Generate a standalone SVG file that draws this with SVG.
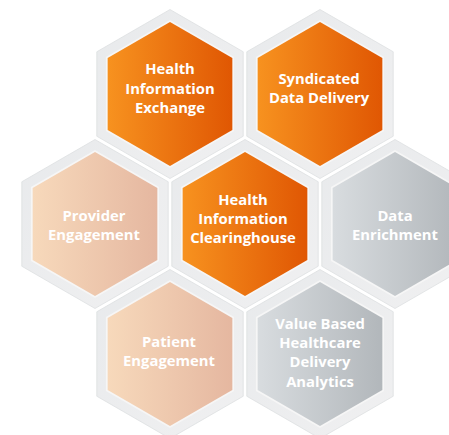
<svg xmlns="http://www.w3.org/2000/svg" xmlns:xlink="http://www.w3.org/1999/xlink" width="449" height="435" viewBox="0 0 449 435">
  <style>
    .lbl { font-family: "Open Sans", "Noto Sans", "Liberation Sans", sans-serif; font-weight: 700; font-size: 14.8px; fill: #ffffff; text-anchor: middle; }
    .frame { fill: url(#gFrame); stroke: #dadcde; stroke-width: 0.7; }
    .hl { fill: #f6f6f6; }
    .orange { fill: url(#gOrange); }
    .peach { fill: url(#gPeach); }
    .grey { fill: url(#gGrey); }
  </style>
  <defs>
    <linearGradient id="gFrame" x1="0" y1="0" x2="1" y2="1">
      <stop offset="0" stop-color="#e8eaec"/>
      <stop offset="1" stop-color="#f0f0f1"/>
    </linearGradient>
    <linearGradient id="gOrange" x1="0" y1="0" x2="1" y2="0">
      <stop offset="0" stop-color="#f7921f"/>
      <stop offset="1" stop-color="#e05703"/>
    </linearGradient>
    <linearGradient id="gPeach" x1="0" y1="0" x2="1" y2="0">
      <stop offset="0" stop-color="#f7d9bb"/>
      <stop offset="1" stop-color="#e5b7a0"/>
    </linearGradient>
    <linearGradient id="gGrey" x1="0" y1="0" x2="1" y2="0">
      <stop offset="0" stop-color="#d8dcdf"/>
      <stop offset="1" stop-color="#b2b7bb"/>
    </linearGradient>
    <polygon id="hexFrame" points="0,-84.5 73.2,-42.25 73.2,42.25 0,84.5 -73.2,42.25 -73.2,-42.25"/>
    <polygon id="hexHl" points="0,-74 64.1,-37 64.1,37 0,74 -64.1,37 -64.1,-37"/>
    <polygon id="hexIn" points="0,-72 62.35,-36 62.35,36 0,72 -62.35,36 -62.35,-36"/>
  </defs>
  <rect width="449" height="435" fill="#ffffff"/>
  <g id="connectors"/>

  <g id="hie" transform="translate(170,94)">
    <use xlink:href="#hexFrame" class="frame"/>
    <use xlink:href="#hexHl" class="hl"/>
    <use xlink:href="#hexIn" class="orange"/>
    <text class="lbl" x="0" y="-20">Health</text>
    <text class="lbl" x="0" y="0">Information</text>
    <text class="lbl" x="0" y="19">Exchange</text>
  </g>

  <g id="sdd" transform="translate(320,94)">
    <use xlink:href="#hexFrame" class="frame"/>
    <use xlink:href="#hexHl" class="hl"/>
    <use xlink:href="#hexIn" class="orange"/>
    <text class="lbl" x="-1" y="-10">Syndicated</text>
    <text class="lbl" x="-1" y="9">Data Delivery</text>
  </g>

  <g id="provider" transform="translate(95,224)">
    <use xlink:href="#hexFrame" class="frame"/>
    <use xlink:href="#hexHl" class="hl"/>
    <use xlink:href="#hexIn" class="peach"/>
    <text class="lbl" x="-1" y="-3">Provider</text>
    <text class="lbl" x="-1" y="16">Engagement</text>
  </g>

  <g id="hic" transform="translate(245,224)">
    <use xlink:href="#hexFrame" class="frame"/>
    <use xlink:href="#hexHl" class="hl"/>
    <use xlink:href="#hexIn" class="orange"/>
    <text class="lbl" x="-2" y="-19">Health</text>
    <text class="lbl" x="-2" y="0">Information</text>
    <text class="lbl" x="-2" y="19">Clearinghouse</text>
  </g>

  <g id="enrichment" transform="translate(395,224)">
    <use xlink:href="#hexFrame" class="frame"/>
    <use xlink:href="#hexHl" class="hl"/>
    <use xlink:href="#hexIn" class="grey"/>
    <text class="lbl" x="0" y="-3">Data</text>
    <text class="lbl" x="0" y="16">Enrichment</text>
  </g>

  <g id="patient" transform="translate(170,354)">
    <use xlink:href="#hexFrame" class="frame"/>
    <use xlink:href="#hexHl" class="hl"/>
    <use xlink:href="#hexIn" class="peach"/>
    <text class="lbl" x="-1" y="-7">Patient</text>
    <text class="lbl" x="-1" y="12">Engagement</text>
  </g>

  <g id="vbhda" transform="translate(320,354)">
    <use xlink:href="#hexFrame" class="frame"/>
    <use xlink:href="#hexHl" class="hl"/>
    <use xlink:href="#hexIn" class="grey"/>
    <text class="lbl" x="0" y="-25">Value Based</text>
    <text class="lbl" x="0" y="-6">Healthcare</text>
    <text class="lbl" x="0" y="13">Delivery</text>
    <text class="lbl" x="0" y="33">Analytics</text>
  </g>
</svg>
